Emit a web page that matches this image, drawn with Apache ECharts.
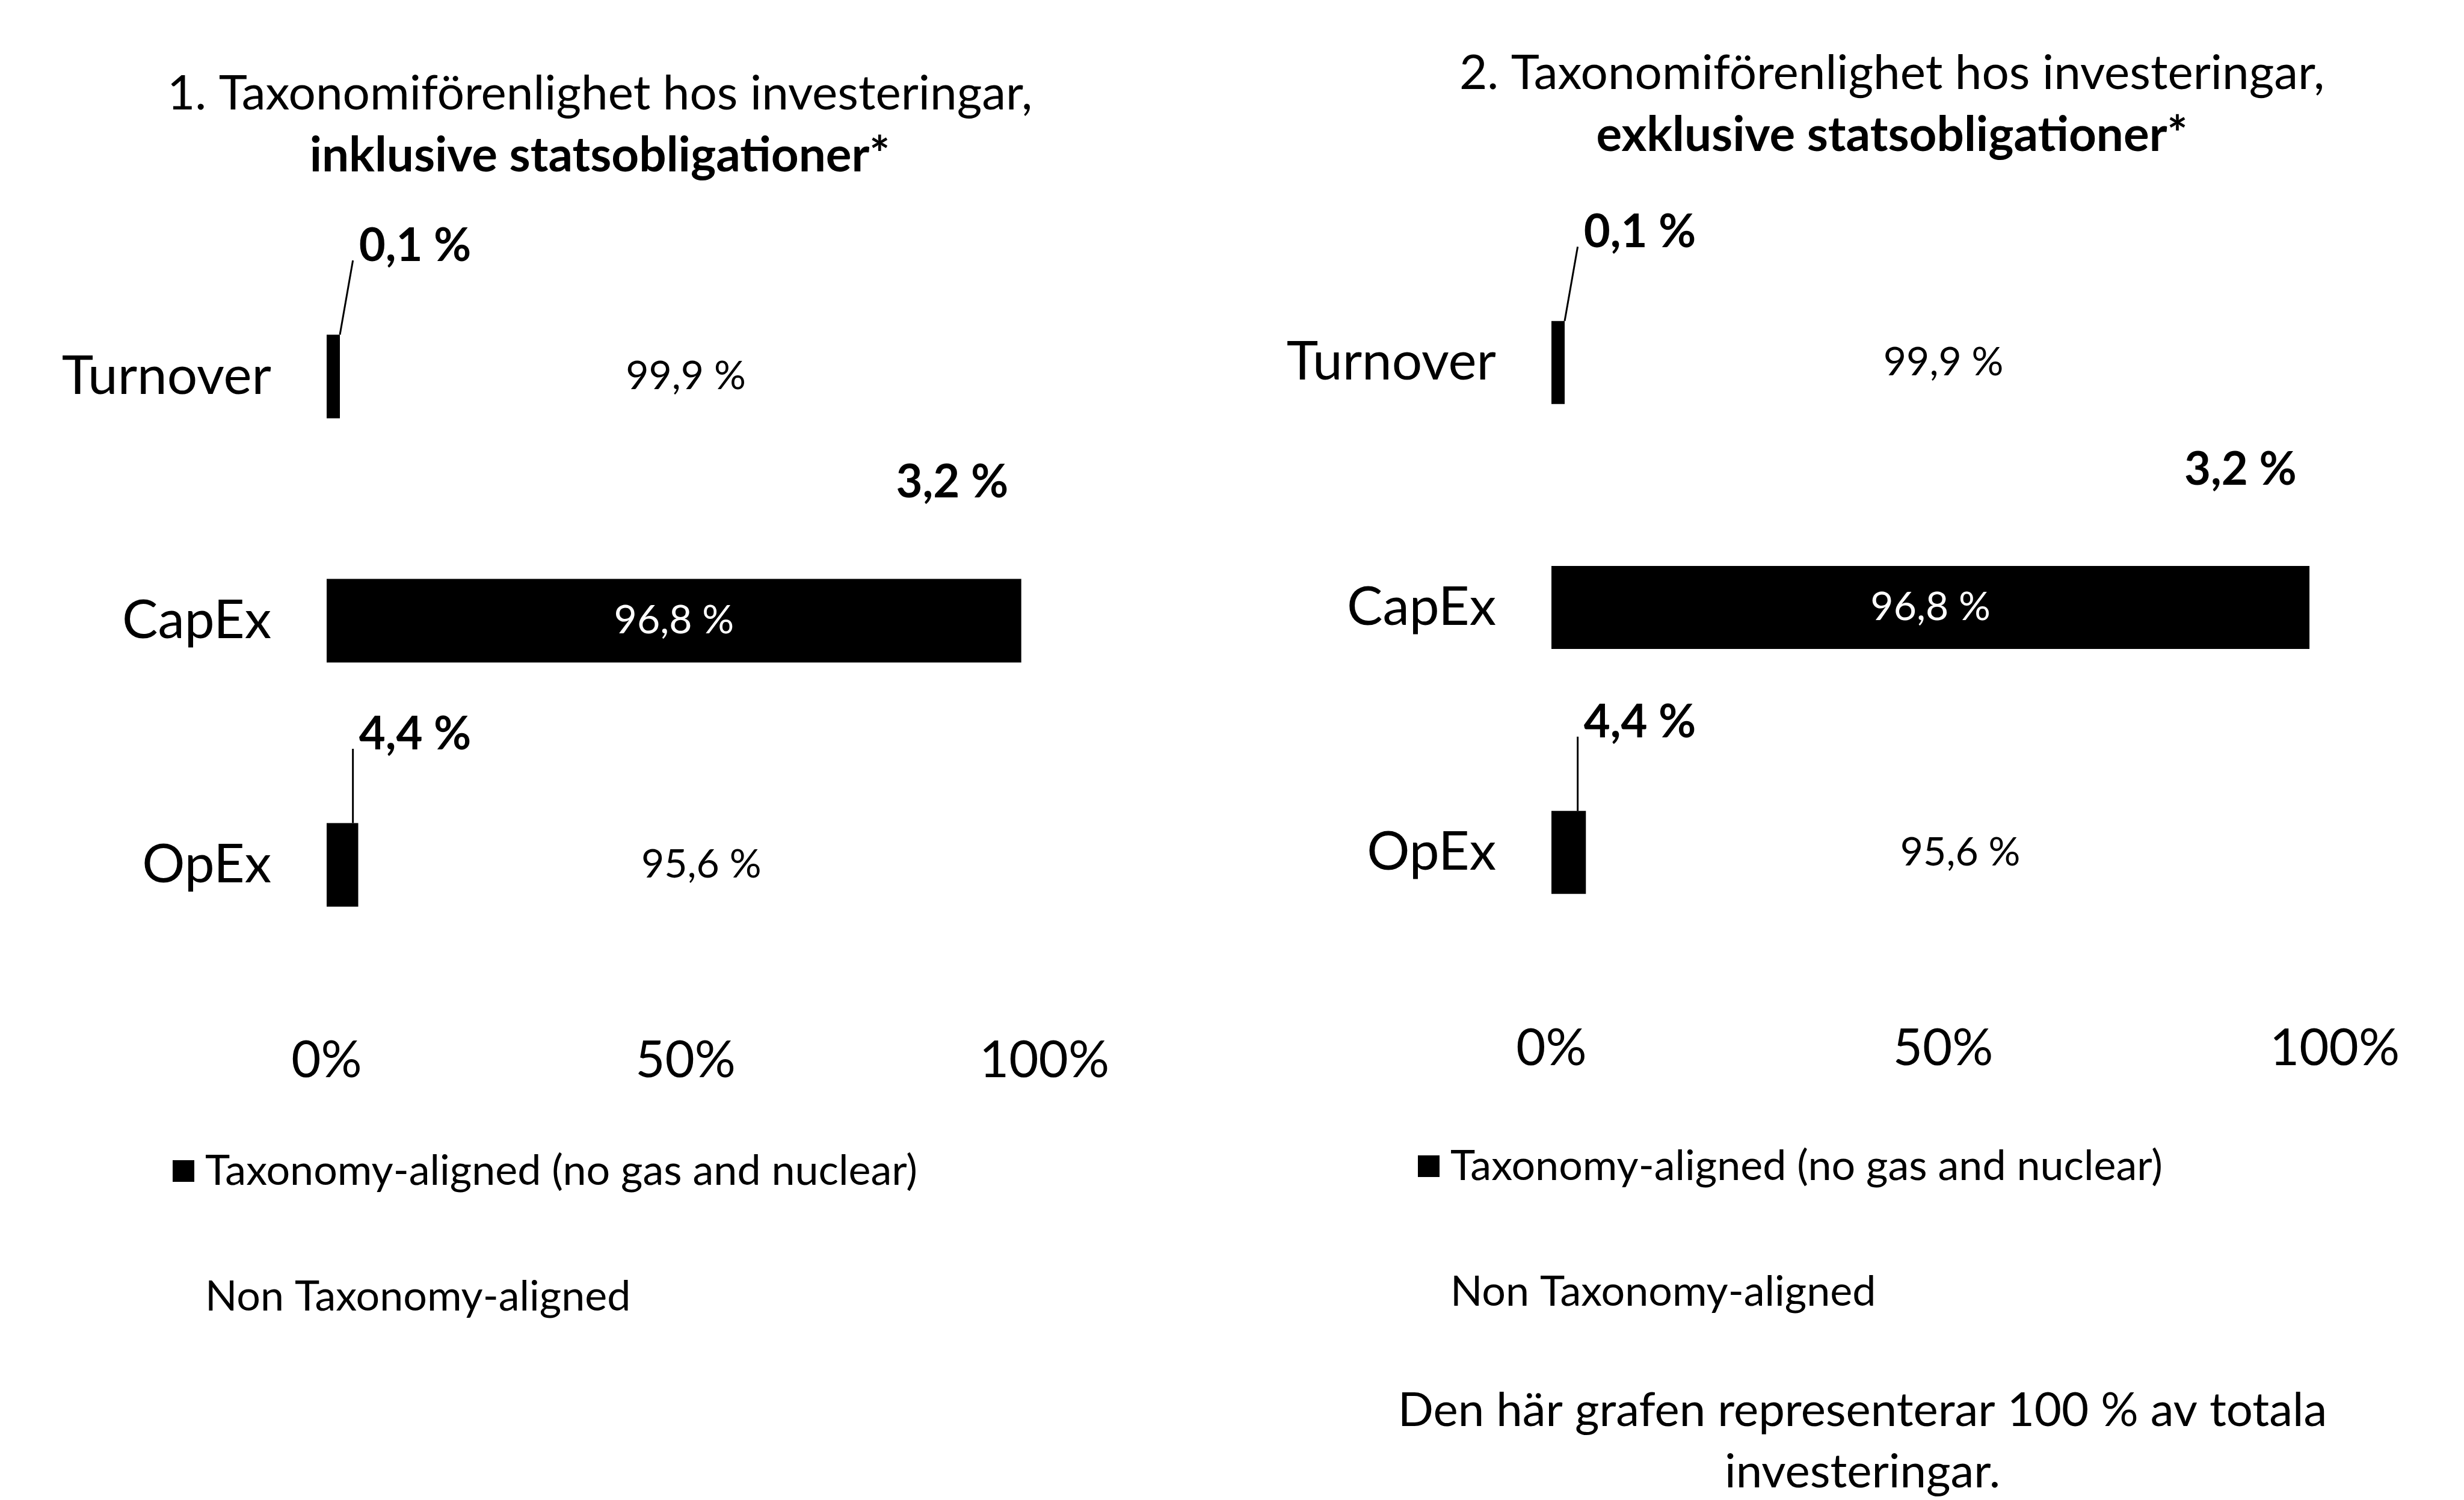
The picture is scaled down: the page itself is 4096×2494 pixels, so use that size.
<!DOCTYPE html>
<html>
<head>
<meta charset="utf-8">
<script src="https://cdn.jsdelivr.net/npm/echarts@6/dist/echarts.min.js"></script>
<style>
  html, body { margin: 0; padding: 0; background: #ffffff; }
  #charts { width: 4096px; height: 2494px; }
</style>
</head>
<body>
<div id="charts"></div>
<script>
let categories = ["Turnover", "CapEx", "OpEx"];
let alignedIncl = [0.1, 3.2, 4.4];
let nonAlignedIncl = [99.9, 96.8, 95.6];
let alignedExcl = [0.1, 3.2, 4.4];
let nonAlignedExcl = [99.9, 96.8, 95.6];
let xTicks = [0, 50, 100];
let alignedName = "Taxonomy-aligned (no gas and nuclear)";
let nonAlignedName = "Non Taxonomy-aligned";
let titleLines = [
  ["1. Taxonomiförenlighet hos investeringar,", "inklusive statsobligationer*"],
  ["2. Taxonomiförenlighet hos investeringar,", "exklusive statsobligationer*"]
];
let footnote = "Den här grafen representerar 100 % av totala\ninvesteringar.";
// in the source the CapEx row has its non-aligned part drawn first, in black
let darkFirst = ["CapEx"];

/* panel layout (pixels) */
let panels = [
  { left: 543, top: 423, width: 1193, height: 1218, barWidth: 139, titleX: 997, titleY: 105, legendX: 287, legendY: 1911 },
  { left: 2579, top: 399, width: 1302, height: 1222, barWidth: 138, titleX: 3145, titleY: 71, legendX: 2357, legendY: 1903 }
];
let dataSets = [
  { aligned: alignedIncl, nonAligned: nonAlignedIncl },
  { aligned: alignedExcl, nonAligned: nonAlignedExcl }
];

// the small bold labels get an empty second line and side padding,
// so that the guide line meets them at their lower left
let lineH = 80, padL = 10, padR = 78;

function num(v) {
  return Number(v).toFixed(1).replace(".", ",") + " %";
}
function fmt(p) {
  return num(p.value);
}
function fmtAligned(p) {
  if (darkFirst.indexOf(categories[p.dataIndex]) >= 0) return num(p.value);
  return "{v|" + num(p.value) + "}\n{s| }";
}

let grids = [], xAxes = [], yAxes = [], series = [], titles = [], legends = [];

panels.forEach(function (pn, g) {
  let ds = dataSets[g];
  grids.push({ left: pn.left, top: pn.top, width: pn.width, height: pn.height });
  xAxes.push({
    type: "value",
    gridIndex: g,
    min: xTicks[0],
    max: xTicks[xTicks.length - 1],
    interval: xTicks[1] - xTicks[0],
    axisLine: { show: false },
    axisTick: { show: false },
    splitLine: { show: false },
    axisLabel: { formatter: "{value}%", fontSize: 85, lineHeight: 85, color: "#000", margin: 80 }
  });
  yAxes.push({
    type: "category",
    gridIndex: g,
    data: categories,
    inverse: true,
    axisLine: { show: false },
    axisTick: { show: false },
    axisLabel: { fontSize: 89, color: "#000", margin: 92 }
  });

  // non-aligned part drawn first (black) for the CapEx row
  series.push({
    name: nonAlignedName,
    type: "bar",
    stack: "s" + g,
    xAxisIndex: g,
    yAxisIndex: g,
    barWidth: pn.barWidth,
    itemStyle: { color: "#000" },
    label: { show: true, position: "inside", color: "#fff", fontSize: 66, formatter: fmt },
    data: categories.map(function (c, i) {
      return darkFirst.indexOf(c) >= 0 ? ds.nonAligned[i] : "-";
    })
  });
  // aligned part
  series.push({
    name: alignedName,
    type: "bar",
    stack: "s" + g,
    xAxisIndex: g,
    yAxisIndex: g,
    barWidth: pn.barWidth,
    barMinHeight: 22,
    z: 3,
    itemStyle: { color: "#000" },
    label: {
      show: true,
      position: "top",
      color: "#000",
      fontSize: 76,
      fontWeight: "bold",
      formatter: fmtAligned,
      rich: {
        v: { fontSize: 76, fontWeight: "bold", color: "#000", lineHeight: lineH, padding: [0, padR, 0, padL] },
        s: { fontSize: 10, lineHeight: lineH }
      }
    },
    labelLine: { show: false, lineStyle: { width: 3, color: "#000" } },
    labelLayout: function (p) {
      let r = p.rect;
      if (darkFirst.indexOf(categories[p.dataIndex]) >= 0) {
        return { x: r.x - 115, y: r.y - 160, align: "center", verticalAlign: "middle" };
      }
      return {
        x: r.x + 147 + (padR - padL) / 2,
        y: r.y - 147 - lineH / 2,
        align: "center",
        verticalAlign: "top"
      };
    },
    data: categories.map(function (c, i) {
      if (darkFirst.indexOf(c) >= 0) {
        return { value: ds.aligned[i], itemStyle: { color: "#fff" } };
      }
      return { value: ds.aligned[i], labelLine: { show: true } };
    })
  });
  // non-aligned part (white)
  series.push({
    name: nonAlignedName,
    type: "bar",
    stack: "s" + g,
    xAxisIndex: g,
    yAxisIndex: g,
    barWidth: pn.barWidth,
    z: 1,
    itemStyle: { color: "#fff" },
    label: { show: true, position: "inside", color: "#000", fontSize: 66, formatter: fmt },
    data: categories.map(function (c, i) {
      return darkFirst.indexOf(c) >= 0 ? "-" : ds.nonAligned[i];
    })
  });

  titles.push({
    text: titleLines[g][0] + "\n{b|" + titleLines[g][1] + "}",
    left: pn.titleX,
    top: pn.titleY,
    textAlign: "center",
    padding: 0,
    textStyle: {
      fontSize: 80,
      fontWeight: "normal",
      color: "#000",
      lineHeight: 103,
      rich: { b: { fontSize: 80, fontWeight: "bold", color: "#000", lineHeight: 103 } }
    }
  });

  legends.push({
    orient: "vertical",
    left: pn.legendX,
    top: pn.legendY,
    itemWidth: 36,
    itemHeight: 36,
    itemGap: 137,
    padding: 0,
    selectedMode: false,
    textStyle: { fontSize: 70, color: "#000", lineHeight: 72, padding: [0, 0, 0, 13] },
    data: [
      { name: alignedName, icon: "rect", itemStyle: { color: "#000" } },
      { name: nonAlignedName, icon: "rect", itemStyle: { color: "#fff" } }
    ]
  });
});

titles.push({
  text: footnote,
  left: 3096,
  top: 2295,
  textAlign: "center",
  padding: 0,
  textStyle: { fontSize: 78, fontWeight: "normal", color: "#000", lineHeight: 102 }
});

let myChart = echarts.init(document.getElementById("charts"));
let option = {
  backgroundColor: "#fff",
  animation: false,
  textStyle: { fontFamily: "Lato" },
  title: titles,
  legend: legends,
  grid: grids,
  xAxis: xAxes,
  yAxis: yAxes,
  series: series
};
myChart.setOption(option);
</script>
</body>
</html>
